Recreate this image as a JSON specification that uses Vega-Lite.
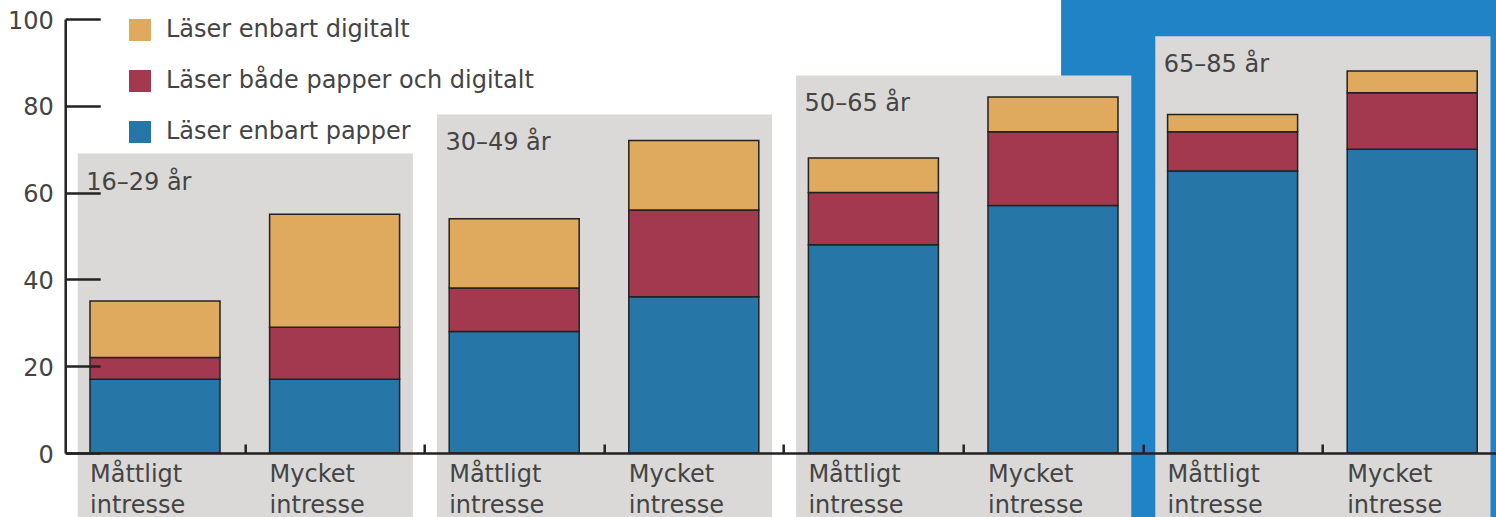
{
  "$schema": "https://vega.github.io/schema/vega-lite/v6.json",
  "width": 1430.8,
  "height": 434,
  "autosize": "none",
  "padding": {"left": 65.2, "top": 19, "right": 0, "bottom": 64},
  "background": "white",
  "config": {"view": {"stroke": null}, "font": "DejaVu Sans"},
  "datasets": {
    "bars": [
      {"slot": 0.5, "grp": "16–29 år", "intr": "Måttligt intresse", "typ": "Läser enbart papper", "k": 1, "v": 17},
      {"slot": 0.5, "grp": "16–29 år", "intr": "Måttligt intresse", "typ": "Läser både papper och digitalt", "k": 2, "v": 5},
      {"slot": 0.5, "grp": "16–29 år", "intr": "Måttligt intresse", "typ": "Läser enbart digitalt", "k": 3, "v": 13},
      {"slot": 1.5, "grp": "16–29 år", "intr": "Mycket intresse", "typ": "Läser enbart papper", "k": 1, "v": 17},
      {"slot": 1.5, "grp": "16–29 år", "intr": "Mycket intresse", "typ": "Läser både papper och digitalt", "k": 2, "v": 12},
      {"slot": 1.5, "grp": "16–29 år", "intr": "Mycket intresse", "typ": "Läser enbart digitalt", "k": 3, "v": 26},
      {"slot": 2.5, "grp": "30–49 år", "intr": "Måttligt intresse", "typ": "Läser enbart papper", "k": 1, "v": 28},
      {"slot": 2.5, "grp": "30–49 år", "intr": "Måttligt intresse", "typ": "Läser både papper och digitalt", "k": 2, "v": 10},
      {"slot": 2.5, "grp": "30–49 år", "intr": "Måttligt intresse", "typ": "Läser enbart digitalt", "k": 3, "v": 16},
      {"slot": 3.5, "grp": "30–49 år", "intr": "Mycket intresse", "typ": "Läser enbart papper", "k": 1, "v": 36},
      {"slot": 3.5, "grp": "30–49 år", "intr": "Mycket intresse", "typ": "Läser både papper och digitalt", "k": 2, "v": 20},
      {"slot": 3.5, "grp": "30–49 år", "intr": "Mycket intresse", "typ": "Läser enbart digitalt", "k": 3, "v": 16},
      {"slot": 4.5, "grp": "50–65 år", "intr": "Måttligt intresse", "typ": "Läser enbart papper", "k": 1, "v": 48},
      {"slot": 4.5, "grp": "50–65 år", "intr": "Måttligt intresse", "typ": "Läser både papper och digitalt", "k": 2, "v": 12},
      {"slot": 4.5, "grp": "50–65 år", "intr": "Måttligt intresse", "typ": "Läser enbart digitalt", "k": 3, "v": 8},
      {"slot": 5.5, "grp": "50–65 år", "intr": "Mycket intresse", "typ": "Läser enbart papper", "k": 1, "v": 57},
      {"slot": 5.5, "grp": "50–65 år", "intr": "Mycket intresse", "typ": "Läser både papper och digitalt", "k": 2, "v": 17},
      {"slot": 5.5, "grp": "50–65 år", "intr": "Mycket intresse", "typ": "Läser enbart digitalt", "k": 3, "v": 8},
      {"slot": 6.5, "grp": "65–85 år", "intr": "Måttligt intresse", "typ": "Läser enbart papper", "k": 1, "v": 65},
      {"slot": 6.5, "grp": "65–85 år", "intr": "Måttligt intresse", "typ": "Läser både papper och digitalt", "k": 2, "v": 9},
      {"slot": 6.5, "grp": "65–85 år", "intr": "Måttligt intresse", "typ": "Läser enbart digitalt", "k": 3, "v": 4},
      {"slot": 7.5, "grp": "65–85 år", "intr": "Mycket intresse", "typ": "Läser enbart papper", "k": 1, "v": 70},
      {"slot": 7.5, "grp": "65–85 år", "intr": "Mycket intresse", "typ": "Läser både papper och digitalt", "k": 2, "v": 13},
      {"slot": 7.5, "grp": "65–85 år", "intr": "Mycket intresse", "typ": "Läser enbart digitalt", "k": 3, "v": 5}
    ],
    "panels": [
      {"g0": 0, "g1": 2, "top": 69, "label": "16–29 år"},
      {"g0": 2, "g1": 4, "top": 78, "label": "30–49 år"},
      {"g0": 4, "g1": 6, "top": 87, "label": "50–65 år"},
      {"g0": 6, "g1": 8, "top": 96, "label": "65–85 år"}
    ]
  },
  "layer": [
    {
      "data": {"values": [{}]},
      "mark": {"type": "rect", "color": "#2083C6", "clip": false},
      "encoding": {
        "x": {"datum": 5.545, "type": "quantitative", "scale": {"domain": [0, 7.9666], "nice": false, "zero": false, "padding": 0}},
        "x2": {"datum": 8.2},
        "y": {"datum": 110, "type": "quantitative", "scale": {"domain": [0, 100], "nice": false, "padding": 0}},
        "y2": {"datum": -16}
      }
    },
    {
      "data": {"name": "panels"},
      "mark": {"type": "rect", "color": "#DAD9D8", "xOffset": 12.5, "x2Offset": -11.5},
      "encoding": {
        "x": {"field": "g0", "type": "quantitative"},
        "x2": {"field": "g1"},
        "y": {"field": "top", "type": "quantitative"},
        "y2": {"datum": -16}
      }
    },
    {
      "data": {"name": "panels"},
      "mark": {"type": "text", "align": "left", "baseline": "alphabetic", "dx": 21, "dy": 36, "fontSize": 24, "color": "#444444"},
      "encoding": {
        "x": {"field": "g0", "type": "quantitative"},
        "y": {"field": "top", "type": "quantitative"},
        "text": {"field": "label"}
      }
    },
    {
      "data": {"name": "bars"},
      "mark": {"type": "bar", "width": 130, "stroke": "#222222", "strokeWidth": 1.5, "opacity": 1},
      "encoding": {
        "x": {
          "field": "slot", "type": "quantitative",
          "axis": {"values": [1, 2, 3, 4, 5, 6, 7], "labels": false, "title": null, "grid": false, "tickSize": -9, "tickWidth": 2.5, "tickColor": "#222222", "domainColor": "#222222", "domainWidth": 2.5, "zindex": 1}
        },
        "y": {
          "field": "v", "type": "quantitative", "stack": "zero",
          "axis": {"values": [0, 20, 40, 60, 80, 100], "title": null, "grid": false, "tickSize": -35, "tickWidth": 2.5, "tickColor": "#222222", "domainColor": "#222222", "domainWidth": 2.5, "labelPadding": 47, "labelOffset": 2, "labelFontSize": 24, "labelColor": "#444444", "labelFont": "DejaVu Sans", "zindex": 1}
        },
        "color": {
          "field": "typ", "type": "nominal",
          "scale": {"domain": ["Läser enbart digitalt", "Läser både papper och digitalt", "Läser enbart papper"], "range": ["#DFA95E", "#A3394E", "#2677A8"]},
          "legend": {"orient": "none", "legendX": 62.8, "legendY": -1, "title": null, "symbolType": "square", "symbolSize": 484, "symbolStrokeWidth": 0, "symbolOpacity": 1, "labelFontSize": 24, "labelColor": "#444444", "labelFont": "DejaVu Sans", "labelOffset": 14, "labelLimit": 0, "rowPadding": 27, "padding": 0}
        },
        "order": {"field": "k", "type": "quantitative"}
      }
    },
    {
      "data": {"name": "bars"},
      "transform": [{"filter": "datum.k == 1"}],
      "mark": {"type": "text", "align": "left", "baseline": "alphabetic", "dx": -65, "dy": 29, "fontSize": 24, "lineHeight": 31, "lineBreak": " ", "color": "#444444"},
      "encoding": {
        "x": {"field": "slot", "type": "quantitative"},
        "y": {"datum": 0, "type": "quantitative"},
        "text": {"field": "intr"}
      }
    }
  ]
}
